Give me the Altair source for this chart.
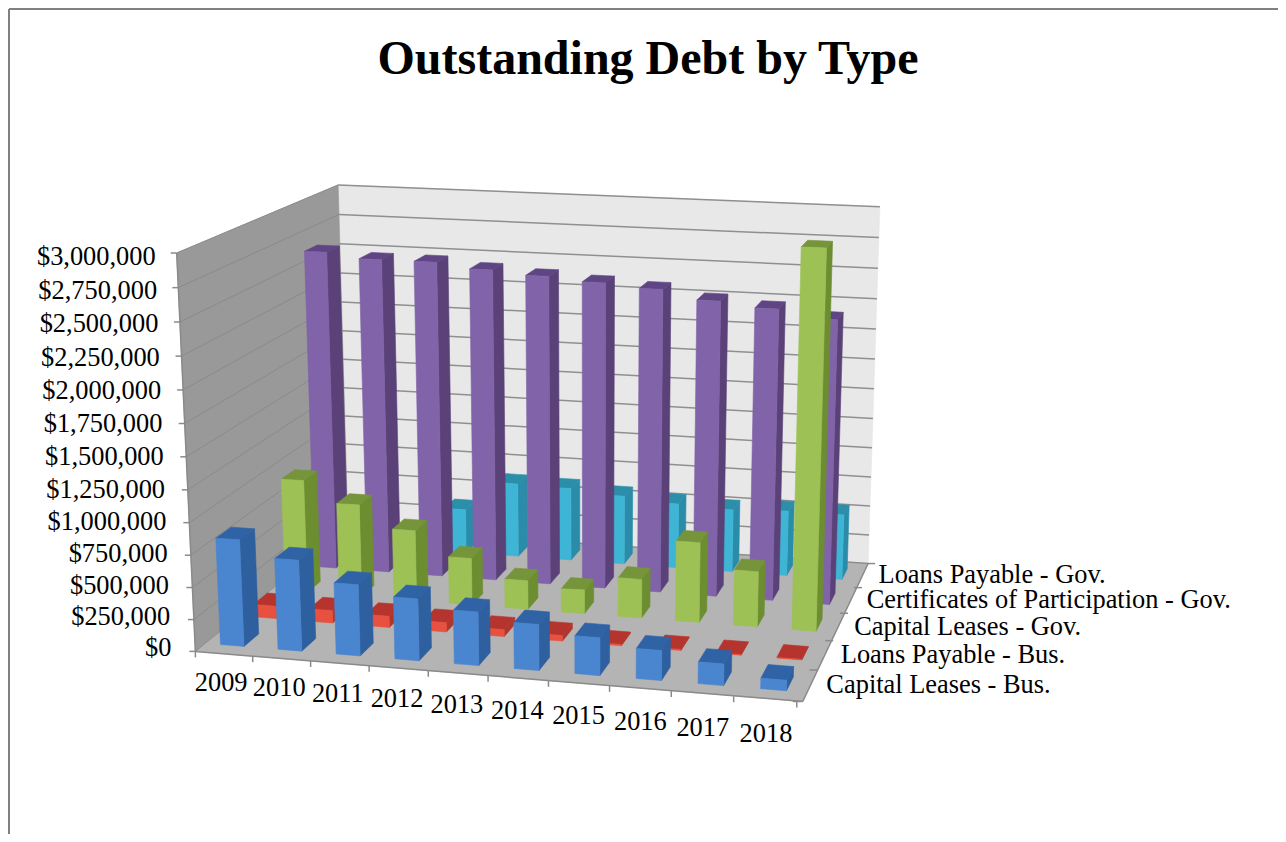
import numpy as np
import pandas as pd
import altair as alt

YEARS = ["2009", "2010", "2011", "2012", "2013", "2014", "2015", "2016", "2017", "2018"]
CAP_BUS = [835000, 710000, 555000, 480000, 415000, 355000, 290000, 230000, 165000, 80000]
LOAN_BUS = [100000, 100000, 90000, 75000, 55000, 45000, 10000, 8000, 5000, 5000]
CAP_GOV = [930000, 760000, 580000, 385000, 235000, 190000, 315000, 645000, 445000, 2970000]
CERT_GOV = [0, 0, 375000, 630000, 620000, 585000, 550000, 530000, 550000, 550000]
LOAN_GOV = [2640000, 2600000, 2600000, 2560000, 2530000, 2500000, 2470000, 2400000, 2360000, 2300000]
AXIS_TICKS = list(range(0, 3000001, 250000))
TITLE = "Outstanding Debt by Type"

ROWS = [CAP_BUS, LOAN_BUS, CAP_GOV, LOAN_GOV, CERT_GOV]
PALETTE = [("#4a85cf", "#2e5f9f", "#2f63a6"),
           ("#e8503f", "#b0362c", "#b5352e"),
           ("#9dc155", "#6c8e30", "#76943a"),
           ("#8063a8", "#5a4278", "#5f4583"),
           ("#3fb5d6", "#2a8ca8", "#2b8fa9")]
DEPTH_LABELS = ["Capital Leases - Bus.", "Loans Payable - Bus.", "Capital Leases - Gov.",
                "Certificates of Participation - Gov.", "Loans Payable - Gov."]
FONT = "Liberation Serif"

# camera: fitted from the box corners seen in the picture
cal3 = [(0, 0, 0), (1, 0, 0), (1, 1, 0), (0, 1, 0), (0, 0, 1), (0, 1, 1), (1, 1, 1)]
cal2 = [(193, 648), (804, 703), (867, 562), (350, 530), (178, 255), (337, 183), (880, 207)]
A = []
for (a, b, c), (p, q) in zip(cal3, cal2):
    A.append([a, b, c, 1, 0, 0, 0, 0, -p * a, -p * b, -p * c, -p])
    A.append([0, 0, 0, 0, a, b, c, 1, -q * a, -q * b, -q * c, -q])
_, _, vt = np.linalg.svd(np.array(A, float))
P = vt[-1].reshape(3, 4)


def proj(u, v, w):
    h = P @ np.array([u, v, w, 1.0])
    return h[0] / h[2], h[1] / h[2]


def poly_rows(pid, fill, pts):
    pts = [proj(*p) for p in pts]
    xs = sorted(set(round(p[0], 3) for p in pts))
    rows = []
    n = len(pts)
    for x in xs:
        ys = []
        for i in range(n):
            (x0, y0), (x1, y1) = pts[i], pts[(i + 1) % n]
            lo, hi = min(x0, x1) - 0.002, max(x0, x1) + 0.002
            if lo <= x <= hi:
                if abs(x1 - x0) < 1e-6:
                    ys += [y0, y1]
                else:
                    ys.append(y0 + (y1 - y0) * (x - x0) / (x1 - x0))
        rows.append({"poly": pid, "fill": fill, "px": x, "py": min(ys), "py2": max(ys)})
    return rows


# walls and floor
wall_rows = []
wall_rows += poly_rows("a_back", "#e8e8e8", [(0, 1, 0), (1, 1, 0), (1, 1, 1), (0, 1, 1)])
wall_rows += poly_rows("b_left", "#999999", [(0, 0, 0), (0, 1, 0), (0, 1, 1), (0, 0, 1)])
wall_rows += poly_rows("c_floor", "#b4b4b4", [(0, 0, 0), (1, 0, 0), (1, 1, 0), (0, 1, 0)])

# gridlines
grid = []
for t in AXIS_TICKS:
    w = t / 3000000
    a, b, c = proj(0, 0, w), proj(0, 1, w), proj(1, 1, w)
    grid.append({"x": a[0], "y": a[1], "x2": b[0], "y2": b[1], "c": "#8a8a8a", "sw": 1})
    grid.append({"x": b[0], "y": b[1], "x2": c[0], "y2": c[1], "c": "#8f8f8f", "sw": 1.5})

# bars, back row first, left to right
bar_rows = []
BAR_U = 0.205
BAR_V = 0.22
for j in range(4, -1, -1):
    front, side, top = PALETTE[j]
    v0, v1 = (j + 0.5 - BAR_V) / 5, (j + 0.5 + BAR_V) / 5
    for i, val in enumerate(ROWS[j]):
        if val <= 0:
            continue
        u0, u1 = (i + 0.47 - BAR_U) / 10, (i + 0.47 + BAR_U) / 10
        w = val / 3000000
        k = f"{j}_{i:02d}"
        bar_rows += poly_rows(k + "_s", side, [(u1, v0, 0), (u1, v1, 0), (u1, v1, w), (u1, v0, w)])
        bar_rows += poly_rows(k + "_t", top, [(u0, v0, w), (u1, v0, w), (u1, v1, w), (u0, v1, w)])
        bar_rows += poly_rows(k + "_zf", front, [(u0, v0, 0), (u1, v0, 0), (u1, v0, w), (u0, v0, w)])

# ticks and box edges
ticks = []
for t in AXIS_TICKS:
    a = proj(0, 0, t / 3000000)
    ticks.append({"x": a[0] - 6, "y": a[1], "x2": a[0], "y2": a[1]})
for i in range(len(YEARS) + 1):
    a = proj(i / 10, 0, 0)
    ticks.append({"x": a[0] - 0.6 * i, "y": a[1], "x2": a[0] - 0.6 * i, "y2": a[1] + 6})
for j in range(len(DEPTH_LABELS) + 1):
    a = proj(1, j / 5, 0)
    c = a[0] - 6 + 9 * j / 5
    ticks.append({"x": c - 4, "y": a[1], "x2": c + 4, "y2": a[1]})
for s, e in [((0, 0, 0), (1, 0, 0)), ((1, 0, 0), (1, 1, 0)), ((0, 0, 0), (0, 0, 1))]:
    a, b = proj(*s), proj(*e)
    ticks.append({"x": a[0], "y": a[1], "x2": b[0], "y2": b[1]})

# text
texts = [{"t": TITLE, "x": 648, "y": 60, "size": 48, "weight": "bold", "align": "center"}]
for t in AXIS_TICKS:
    w = t / 3000000
    a = proj(0, 0, w)
    texts.append({"t": f"${t:,}", "x": a[0] - 24 + 3 * w, "y": a[1] - 3 + 6.5 * w,
                  "size": 26.4, "weight": "normal", "align": "right"})
for i, lab in enumerate(YEARS):
    u = (i + 0.5) / 10
    a = proj(u, 0, 0)
    texts.append({"t": lab, "x": a[0] - 3 - 2 * u, "y": a[1] + 29 + 6 * u,
                  "size": 26.4, "weight": "normal", "align": "center"})
for j, lab in enumerate(DEPTH_LABELS):
    a = proj(1, (j + 0.5) / 5, 0)
    texts.append({"t": lab, "x": a[0] + 16, "y": a[1], "size": 26.4, "weight": "normal", "align": "left"})

frame = [{"x": 9, "y": 9, "x2": 1278, "y2": 9}, {"x": 9, "y": 9, "x2": 9, "y2": 834}]

W, H = 1270, 826
X = lambda f: alt.X(f, type="quantitative", scale=alt.Scale(domain=[8, 8 + W], nice=False, zero=False), axis=None)
Y = lambda f: alt.Y(f, type="quantitative", scale=alt.Scale(domain=[8 + H, 8], nice=False, zero=False), axis=None)
color = alt.Color("fill:N", scale=None, legend=None)
stroke = alt.Stroke("fill:N", scale=None, legend=None)


def areas(rows):
    return alt.Chart(pd.DataFrame(rows)).mark_area(orient="vertical", strokeWidth=0.6, opacity=1).encode(
        x=X("px"), y=Y("py"), y2=alt.Y2("py2"), color=color, stroke=stroke, detail="poly:N")


def rules(rows, col, sw):
    return alt.Chart(pd.DataFrame(rows)).mark_rule(color=col, strokeWidth=sw).encode(
        x=X("x"), y=Y("y"), x2=alt.X2("x2"), y2=alt.Y2("y2"))


grid_df = pd.DataFrame(grid)
grid_layer = alt.Chart(grid_df).mark_rule().encode(
    x=X("x"), y=Y("y"), x2=alt.X2("x2"), y2=alt.Y2("y2"),
    color=alt.Color("c:N", scale=None, legend=None),
    strokeWidth=alt.StrokeWidth("sw:Q", scale=None, legend=None))

text_layers = []
for (align, size, weight) in sorted({(d["align"], d["size"], d["weight"]) for d in texts}):
    sub = [d for d in texts if (d["align"], d["size"], d["weight"]) == (align, size, weight)]
    text_layers.append(
        alt.Chart(pd.DataFrame(sub)).mark_text(
            font=FONT, fontSize=size, fontWeight=weight, align=align, baseline="middle", color="#000000"
        ).encode(x=X("x"), y=Y("y"), text="t:N"))

chart = alt.layer(
    rules(frame, "#808080", 2),
    areas(wall_rows),
    grid_layer,
    rules(ticks, "#8a8a8a", 1.5),
    areas(bar_rows),
    *text_layers,
).properties(
    width=W, height=H, padding=0, autosize=alt.AutoSizeParams(type="none"), background="#ffffff"
).configure_view(stroke=None)

chart.save("out.html", embed_options={"renderer": "svg", "actions": False})
